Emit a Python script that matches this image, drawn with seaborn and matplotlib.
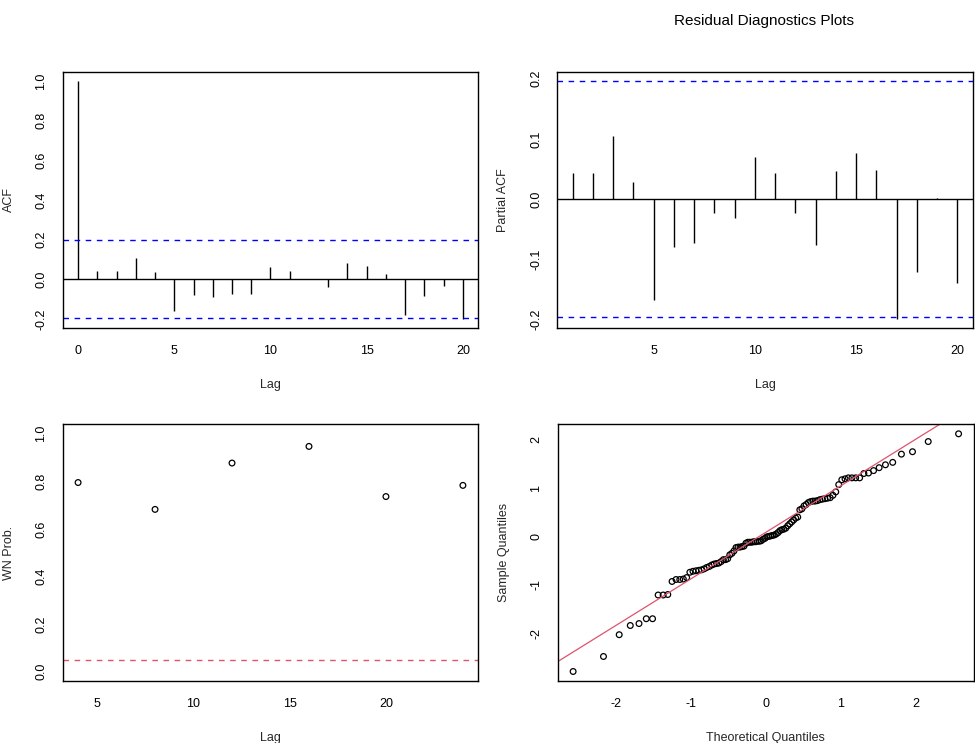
import numpy as np
import pandas as pd
import seaborn as sns
import matplotlib.pyplot as plt
from statistics import NormalDist

# Data
acf_lags = list(range(0, 21))
acf_vals = [1.0, 0.042, 0.042, 0.108, 0.037, -0.158, -0.077, -0.087, -0.072, -0.072,
            0.062, 0.042, 0.003, -0.037, 0.082, 0.067, 0.027, -0.178, -0.082, -0.032, -0.198]

pacf_lags = list(range(1, 21))
pacf_vals = [0.043, 0.043, 0.105, 0.029, -0.168, -0.080, -0.074, -0.024, -0.032, 0.070,
             0.044, -0.024, -0.077, 0.047, 0.077, 0.049, -0.199, -0.122, 0.002, -0.140]

wn_lags = [4, 8, 12, 16, 20, 24]
wn_pvals = [0.795, 0.682, 0.877, 0.947, 0.736, 0.783]
wn_level = 0.05

conf_band = 0.196

# sorted residuals (sample quantiles)
residuals = [
    -2.79, -2.48, -2.03, -1.84, -1.80, -1.70, -1.70, -1.21, -1.21, -1.20,
    -0.93, -0.89, -0.89, -0.88, -0.85, -0.74, -0.72, -0.71, -0.70, -0.69,
    -0.67, -0.64, -0.62, -0.59, -0.57, -0.56, -0.55, -0.52, -0.48, -0.48,
    -0.46, -0.38, -0.35, -0.30, -0.23, -0.22, -0.22, -0.21, -0.20, -0.14,
    -0.12, -0.12, -0.12, -0.11, -0.11, -0.10, -0.10, -0.09, -0.06, -0.04,
    -0.01, 0.00, 0.01, 0.02, 0.03, 0.05, 0.08, 0.12, 0.14, 0.15,
    0.17, 0.22, 0.26, 0.30, 0.34, 0.38, 0.40, 0.55, 0.57, 0.63,
    0.66, 0.70, 0.72, 0.73, 0.73, 0.74, 0.76, 0.77, 0.78, 0.79,
    0.80, 0.85, 0.92, 1.07, 1.17, 1.19, 1.21, 1.21, 1.21, 1.21,
    1.30, 1.31, 1.36, 1.42, 1.48, 1.53, 1.70, 1.75, 1.96, 2.12,
]

FIG_W, FIG_H = 975, 743
FS = 9


def padded(lo, hi, frac=0.04):
    pad = (hi - lo) * frac
    return lo - pad, hi + pad


def px_rect(left, top, right, bottom):
    return [left / FIG_W, 1 - bottom / FIG_H, (right - left) / FIG_W, (bottom - top) / FIG_H]


def style_axes(ax, xlabel, ylabel, width_px, height_px):
    for sp in ax.spines.values():
        sp.set_visible(True)
        sp.set_color('black')
        sp.set_linewidth(1.0)
    ax.tick_params(axis='both', direction='out', length=6, width=0.9, color='black',
                   labelsize=FS, labelcolor='black')
    ax.tick_params(axis='x', pad=6.5)
    ax.tick_params(axis='y', pad=5.0)
    for lab in ax.get_yticklabels():
        lab.set_rotation(90)
        lab.set_va('center')
    ax.set_xlabel(xlabel, fontsize=FS, va='center')
    ax.set_ylabel(ylabel, fontsize=FS, va='center')
    ax.xaxis.set_label_coords(0.5, -57 / height_px)
    ax.yaxis.set_label_coords(-54 / width_px, 0.5)
    ax.grid(False)


sns.set_theme(style='white')
plt.rcParams['font.family'] = ['Liberation Sans', 'DejaVu Sans']

fig = plt.figure(figsize=(FIG_W / 100, FIG_H / 100), dpi=100)

# ACF
ax1 = fig.add_axes(px_rect(62.7, 71.7, 478.3, 328))
ax1.vlines(acf_lags, 0, acf_vals, color='black', linewidth=1.0)
ax1.axhline(0, color='black', linewidth=1.0)
for h in (conf_band, -conf_band):
    ax1.axhline(h, color='blue', linewidth=1.0, linestyle=(0, (4, 4)))
ax1.set_xlim(*padded(min(acf_lags), max(acf_lags)))
ax1.set_ylim(*padded(min(min(acf_vals), -conf_band), max(max(acf_vals), conf_band)))
ax1.set_xticks([0, 5, 10, 15, 20])
ax1.set_yticks([-0.2, 0.0, 0.2, 0.4, 0.6, 0.8, 1.0])
ax1.set_yticklabels(['-0.2', '0.0', '0.2', '0.4', '0.6', '0.8', '1.0'])
style_axes(ax1, 'Lag', 'ACF', 415.6, 256.3)

# PACF
ax2 = fig.add_axes(px_rect(557.3, 71.7, 972.7, 328))
ax2.vlines(pacf_lags, 0, pacf_vals, color='black', linewidth=1.0)
ax2.axhline(0, color='black', linewidth=1.0)
for h in (conf_band, -conf_band):
    ax2.axhline(h, color='blue', linewidth=1.0, linestyle=(0, (4, 4)))
ax2.set_xlim(*padded(min(pacf_lags), max(pacf_lags)))
ax2.set_ylim(*padded(min(min(pacf_vals), -conf_band), max(max(pacf_vals), conf_band)))
ax2.set_xticks([5, 10, 15, 20])
ax2.set_yticks([-0.2, -0.1, 0.0, 0.1, 0.2])
ax2.set_yticklabels(['-0.2', '-0.1', '0.0', '0.1', '0.2'])
style_axes(ax2, 'Lag', 'Partial ACF', 415.4, 256.3)

# White-noise p-values
ax3 = fig.add_axes(px_rect(62.7, 424.3, 478.3, 681))
wn_df = pd.DataFrame({'lag': wn_lags, 'p': wn_pvals})
sns.scatterplot(data=wn_df, x='lag', y='p', ax=ax3, marker='o', s=17,
                facecolor='none', edgecolor='black', linewidth=0.9)
ax3.axhline(wn_level, color='#DF536B', linewidth=1.0, linestyle=(0, (4, 4)))
ax3.set_xlim(*padded(min(wn_lags), max(wn_lags)))
ax3.set_ylim(*padded(0, 1))
ax3.set_xticks([5, 10, 15, 20])
ax3.set_yticks([0.0, 0.2, 0.4, 0.6, 0.8, 1.0])
ax3.set_yticklabels(['0.0', '0.2', '0.4', '0.6', '0.8', '1.0'])
style_axes(ax3, 'Lag', 'WN Prob.', 415.6, 256.7)

# Normal Q-Q
nd = NormalDist()
n = len(residuals)
theo = [nd.inv_cdf((i + 0.5) / n) for i in range(n)]
qq_df = pd.DataFrame({'theo': theo, 'sample': sorted(residuals)})
ax4 = fig.add_axes(px_rect(557.7, 424.3, 974, 681))
sns.scatterplot(data=qq_df, x='theo', y='sample', ax=ax4, marker='o', s=17,
                facecolor='none', edgecolor='black', linewidth=0.9)
q1, q3 = np.quantile(qq_df['sample'], [0.25, 0.75])
z1, z3 = nd.inv_cdf(0.25), nd.inv_cdf(0.75)
slope = (q3 - q1) / (z3 - z1)
intercept = q1 - slope * z1
ax4.axline((0, intercept), slope=slope, color='#DF536B', linewidth=0.9)
ax4.set_xlim(*padded(min(theo), max(theo)))
ax4.set_ylim(*padded(min(residuals), max(residuals)))
ax4.set_xticks([-2, -1, 0, 1, 2])
ax4.set_yticks([-2, -1, 0, 1, 2])
ax4.set_xticklabels(['-2', '-1', '0', '1', '2'])
ax4.set_yticklabels(['-2', '-1', '0', '1', '2'])
style_axes(ax4, 'Theoretical Quantiles', 'Sample Quantiles', 416.3, 256.7)

fig.text(764 / FIG_W, 1 - 21 / FIG_H, 'Residual Diagnostics Plots',
         ha='center', va='center', fontsize=11, color='black')

fig.savefig('out.png', dpi=100)
